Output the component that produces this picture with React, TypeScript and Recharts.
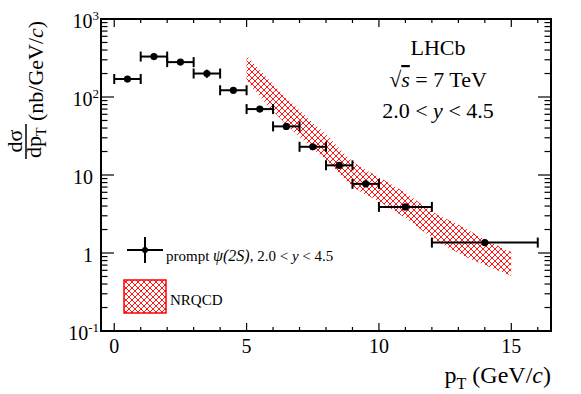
import { ComposedChart, Area, Scatter, ErrorBar, XAxis, YAxis, ReferenceArea } from "recharts";

// measured points: bin centres, half widths, cross sections (nb/GeV/c)
const PT = [0.5, 1.5, 2.5, 3.5, 4.5, 5.5, 6.5, 7.5, 8.5, 9.5, 11, 14];
const PT_HALF = [0.5, 0.5, 0.5, 0.5, 0.5, 0.5, 0.5, 0.5, 0.5, 0.5, 1, 2];
const XSEC = [170, 330, 280, 200, 122, 70, 42, 23, 13.3, 7.7, 3.9, 1.36];
const XSEC_ERR = [16, 30, 24, 24, 11, 6, 3.5, 2, 1.1, 0.7, 0.35, 0.12];

// NRQCD band
const BAND_PT = [5, 6, 7, 8, 9, 10, 11, 12, 13, 14, 15];
const BAND_LO = [161, 66, 31, 15.5, 7.2, 4.6, 2.8, 1.58, 1.0, 0.7, 0.51];
const BAND_HI = [340, 146, 67, 33, 15, 9.4, 5.9, 3.4, 2.3, 1.5, 1.03];

const X_TICKS = Array.from({ length: 17 }, (_, i) => i);
const Y_TICKS = [0.1, 1, 10, 100].flatMap(d => [1, 2, 3, 4, 5, 6, 7, 8, 9].map(m => d * m)).concat([1000]);

const W = 581, H = 394;
const L = 101, T = 19, R = 551, B = 331;
const FONT = "'Liberation Serif', 'DejaVu Serif', serif";

const points = PT.map((x, i) => ({ x, y: XSEC[i], ex: PT_HALF[i], ey: XSEC_ERR[i] }));
const band = BAND_PT.map((x, i) => ({ x, range: [BAND_LO[i], BAND_HI[i]] }));

function XTick(props: any) {
  const { x, payload } = props;
  const v = payload.value;
  const major = v % 5 === 0;
  const len = major ? 8 : 4;
  return (
    <g>
      <line x1={x} x2={x} y1={B} y2={B - len} stroke="#000" strokeWidth={1.2} />
      <line x1={x} x2={x} y1={T} y2={T + len} stroke="#000" strokeWidth={1.2} />
      {major && (
        <text x={x} y={353} textAnchor="middle" fontSize={20} fontFamily={FONT} fill="#000">{v}</text>
      )}
    </g>
  );
}

function YTick(props: any) {
  const { y, payload } = props;
  const lg = Math.log10(payload.value);
  const e = Math.round(lg);
  const major = Math.abs(lg - e) < 1e-6;
  const len = major ? 13 : 6.5;
  let label: any = null;
  if (major) {
    if (e === 0 || e === 1) {
      label = <text x={93} y={y + 9} textAnchor="end" fontSize={20} fontFamily={FONT} fill="#000">{e === 0 ? "1" : "10"}</text>;
    } else {
      label = (
        <text x={99} y={y + 9} textAnchor="end" fontSize={20} fontFamily={FONT} fill="#000">
          10<tspan fontSize={13} dy={-8}>{e}</tspan>
        </text>
      );
    }
  }
  return (
    <g>
      <line x1={L} x2={L + len} y1={y} y2={y} stroke="#000" strokeWidth={1.2} />
      <line x1={R} x2={R - len} y1={y} y2={y} stroke="#000" strokeWidth={1.2} />
      {label}
    </g>
  );
}

const dot = (p: any) => <circle cx={p.cx} cy={p.cy} r={3.6} fill="#000" />;

export default function App() {
  return (
    <div style={{ position: "fixed", left: 0, top: 0, width: W, height: H, background: "#fff" }}>
      <svg width={0} height={0} style={{ position: "absolute" }}>
        <defs>
          <pattern id="hatch" patternUnits="userSpaceOnUse" width={6} height={6}>
            <path d="M0,0 L6,6 M0,6 L6,0" stroke="#ff0000" strokeWidth={0.9} fill="none" />
          </pattern>
        </defs>
      </svg>
      <ComposedChart width={W} height={H} data={band} margin={{ top: T, right: W - R, bottom: 0, left: 0 }}>
        <XAxis dataKey="x" type="number" domain={[-0.5, 16.5]} ticks={X_TICKS} interval={0}
          height={H - B} tick={<XTick />} tickLine={false} axisLine={false} allowDataOverflow />
        <YAxis type="number" scale="log" domain={[0.1, 1000]} ticks={Y_TICKS} interval={0}
          width={L} tick={<YTick />} tickLine={false} axisLine={false} allowDataOverflow />
        <Area dataKey="range" type="monotone" stroke="none" fill="url(#hatch)" fillOpacity={1} isAnimationActive={false} />
        <Scatter data={points} dataKey="y" shape={dot} isAnimationActive={false}>
          <ErrorBar dataKey="ex" direction="x" width={5} stroke="#000" strokeWidth={2} />
          <ErrorBar dataKey="ey" direction="y" width={0} stroke="#000" strokeWidth={2} />
        </Scatter>
        <ReferenceArea x1={-0.5} x2={16.5} y1={0.1} y2={1000} fill="none" stroke="#000" strokeWidth={2} />
      </ComposedChart>
      <svg width={W} height={H} style={{ position: "absolute", left: 0, top: 0, pointerEvents: "none" }} fontFamily={FONT}>
        <g transform="rotate(-90)">
          <text x={-121} y={43} fontSize={22} fill="#000">(nb/GeV/<tspan fontStyle="italic">c</tspan>)</text>
          <text x={-141} y={22} fontSize={22} textAnchor="middle" fill="#000">dσ</text>
          <line x1={-159} x2={-124} y1={26} y2={26} stroke="#000" strokeWidth={1.5} />
          <text x={-158} y={41} fontSize={22} fill="#000">dp<tspan fontSize={14} dy={5}>T</tspan></text>
        </g>
        <text x={R} y={383} fontSize={24} textAnchor="end" fill="#000">
          p<tspan fontSize={16} dy={6}>T</tspan><tspan dy={-6}> (GeV/</tspan><tspan fontStyle="italic">c</tspan>)
        </text>
        <text x={438} y={55} fontSize={22} textAnchor="middle" fill="#000">LHCb</text>
        <text x={438} y={87} fontSize={22} textAnchor="middle" fill="#000">
          √<tspan fontStyle="italic" textDecoration="overline">s</tspan> = 7 TeV
        </text>
        <text x={438} y={118} fontSize={22} textAnchor="middle" fill="#000">
          2.0 &lt; <tspan fontStyle="italic">y</tspan> &lt; 4.5
        </text>
        <line x1={127} x2={163} y1={250} y2={250} stroke="#000" strokeWidth={2} />
        <line x1={145} x2={145} y1={237} y2={263} stroke="#000" strokeWidth={2} />
        <circle cx={145} cy={250} r={3} fill="#000" />
        <text x={166} y={261} fontSize={15} fill="#000">
          prompt  <tspan fontStyle="italic" fontSize={16}>ψ(2S)</tspan>, 2.0 &lt; <tspan fontStyle="italic">y</tspan> &lt; 4.5
        </text>
        <rect x={124} y={280} width={42} height={33} fill="url(#hatch)" stroke="#ff0000" strokeWidth={1.5} />
        <text x={170} y={305} fontSize={15} fill="#000">NRQCD</text>
      </svg>
    </div>
  );
}
